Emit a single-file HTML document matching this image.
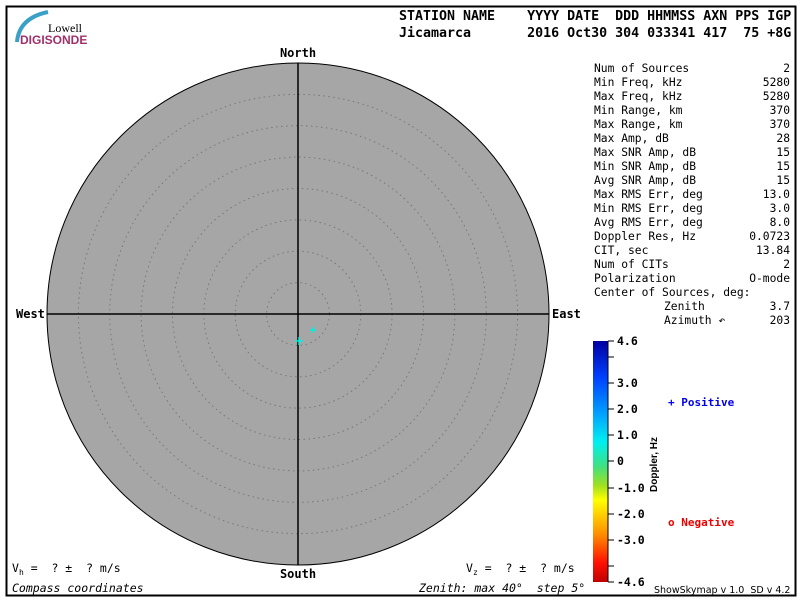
<!DOCTYPE html>
<html><head><meta charset="utf-8"><style>
html,body{margin:0;padding:0;background:#fff;width:800px;height:600px;overflow:hidden}
text{font-family:"DejaVu Sans Mono","Liberation Mono",monospace;white-space:pre}
</style></head><body>
<svg width="800" height="600" xmlns="http://www.w3.org/2000/svg">
<defs>
<linearGradient id="cb" x1="0" y1="0" x2="0" y2="1">
<stop offset="0" stop-color="#0000a0"/>
<stop offset="0.15" stop-color="#0040ff"/>
<stop offset="0.3" stop-color="#00a0ff"/>
<stop offset="0.42" stop-color="#00f0f0"/>
<stop offset="0.52" stop-color="#40e080"/>
<stop offset="0.6" stop-color="#a0e020"/>
<stop offset="0.66" stop-color="#ffff00"/>
<stop offset="0.8" stop-color="#ff9000"/>
<stop offset="0.92" stop-color="#ff1000"/>
<stop offset="1" stop-color="#c00000"/>
</linearGradient>
</defs>
<rect x="6.5" y="6.5" width="789" height="589" fill="none" stroke="#000" stroke-width="2"/>
<path d="M17 42 Q19 18 48 12" stroke="#3aa0c8" stroke-width="4" fill="none"/>
<text x="48" y="32" style="font-family:'Liberation Serif',serif" font-size="12">Lowell</text>
<text x="20" y="44" style="font-family:'Liberation Sans',sans-serif" font-size="12" font-weight="bold" fill="#a0306a">DIGISONDE</text>
<g font-size="13.3" font-weight="bold">
<text x="399" y="20">STATION NAME    YYYY DATE  DDD HHMMSS AXN PPS IGP</text>
<text x="399" y="37">Jicamarca       2016 Oct30 304 033341 417  75 +8G</text>
</g>
<circle cx="298" cy="314" r="251" fill="#a6a6a6" stroke="#000"/>
<g fill="none" stroke="#777" stroke-dasharray="1.5,3.5">
<circle cx="298" cy="314" r="31.4"/><circle cx="298" cy="314" r="62.8"/>
<circle cx="298" cy="314" r="94.1"/><circle cx="298" cy="314" r="125.5"/>
<circle cx="298" cy="314" r="156.9"/><circle cx="298" cy="314" r="188.3"/>
<circle cx="298" cy="314" r="219.6"/>
</g>
<line x1="298" y1="63" x2="298" y2="565" stroke="#000" stroke-width="1.5"/>
<line x1="47" y1="314" x2="549" y2="314" stroke="#000" stroke-width="1.5"/>
<g stroke="#00f0e0" stroke-width="1.5">
<line x1="310" y1="330" x2="316" y2="330"/><line x1="313" y1="327" x2="313" y2="333"/>
<line x1="295" y1="341" x2="303" y2="341"/><line x1="299" y1="337" x2="299" y2="345"/>
</g>
<g font-size="12" font-weight="bold">
<text x="298" y="57" text-anchor="middle">North</text>
<text x="298" y="578" text-anchor="middle">South</text>
<text x="16" y="318">West</text>
<text x="552" y="318">East</text>
</g>
<g font-size="11.3">
<text x="594" y="72">Num of Sources</text><text x="790" y="72" text-anchor="end">2</text>
<text x="594" y="86">Min Freq, kHz</text><text x="790" y="86" text-anchor="end">5280</text>
<text x="594" y="100">Max Freq, kHz</text><text x="790" y="100" text-anchor="end">5280</text>
<text x="594" y="114">Min Range, km</text><text x="790" y="114" text-anchor="end">370</text>
<text x="594" y="128">Max Range, km</text><text x="790" y="128" text-anchor="end">370</text>
<text x="594" y="142">Max Amp, dB</text><text x="790" y="142" text-anchor="end">28</text>
<text x="594" y="156">Max SNR Amp, dB</text><text x="790" y="156" text-anchor="end">15</text>
<text x="594" y="170">Min SNR Amp, dB</text><text x="790" y="170" text-anchor="end">15</text>
<text x="594" y="184">Avg SNR Amp, dB</text><text x="790" y="184" text-anchor="end">15</text>
<text x="594" y="198">Max RMS Err, deg</text><text x="790" y="198" text-anchor="end">13.0</text>
<text x="594" y="212">Min RMS Err, deg</text><text x="790" y="212" text-anchor="end">3.0</text>
<text x="594" y="226">Avg RMS Err, deg</text><text x="790" y="226" text-anchor="end">8.0</text>
<text x="594" y="240">Doppler Res, Hz</text><text x="790" y="240" text-anchor="end">0.0723</text>
<text x="594" y="254">CIT, sec</text><text x="790" y="254" text-anchor="end">13.84</text>
<text x="594" y="268">Num of CITs</text><text x="790" y="268" text-anchor="end">2</text>
<text x="594" y="282">Polarization</text><text x="790" y="282" text-anchor="end">O-mode</text>
<text x="594" y="296">Center of Sources, deg:</text>
<text x="664" y="310">Zenith</text><text x="790" y="310" text-anchor="end">3.7</text>
<text x="664" y="324">Azimuth ↶</text><text x="790" y="324" text-anchor="end">203</text>
</g>
<rect x="593" y="341" width="15" height="241" fill="url(#cb)"/>
<line x1="608" y1="341" x2="608" y2="582" stroke="#000"/>
<g stroke="#000">
<line x1="608" y1="341" x2="614" y2="341"/><line x1="608" y1="357" x2="614" y2="357"/>
<line x1="608" y1="383" x2="614" y2="383"/><line x1="608" y1="409" x2="614" y2="409"/>
<line x1="608" y1="435" x2="614" y2="435"/><line x1="608" y1="461" x2="614" y2="461"/>
<line x1="608" y1="488" x2="614" y2="488"/><line x1="608" y1="514" x2="614" y2="514"/>
<line x1="608" y1="540" x2="614" y2="540"/><line x1="608" y1="566" x2="614" y2="566"/>
<line x1="608" y1="582" x2="614" y2="582"/>
</g>
<g font-size="11.5" font-weight="bold">
<text x="617" y="345">4.6</text><text x="617" y="387">3.0</text><text x="617" y="413">2.0</text>
<text x="617" y="439">1.0</text><text x="617" y="465">0</text><text x="617" y="492">-1.0</text>
<text x="617" y="518">-2.0</text><text x="617" y="544">-3.0</text><text x="617" y="586">-4.6</text>
</g>
<text transform="translate(657,492) rotate(-90)" font-size="10" font-weight="bold" style="font-family:'Liberation Sans',sans-serif">Doppler, Hz</text>
<g font-size="11" font-weight="bold" style="font-family:'Liberation Sans',sans-serif">
<text x="668" y="406" fill="#0000ee">+ Positive</text>
<text x="668" y="526" fill="#ee0000">o Negative</text>
</g>
<g font-size="11.5">
<text x="12" y="572">V<tspan font-size="8" dy="3">h</tspan><tspan dy="-3"> =  ? ±  ? m/s</tspan></text>
<text x="466" y="572">V<tspan font-size="8" dy="3">z</tspan><tspan dy="-3"> =  ? ±  ? m/s</tspan></text>
<text x="12" y="592" font-style="italic">Compass coordinates</text>
<text x="419" y="592" font-style="italic">Zenith: max 40°  step 5°</text>
</g>
<text x="654" y="593" font-size="9.5" style="font-family:'DejaVu Sans',sans-serif">ShowSkymap v 1.0  SD v 4.2</text>
</svg>
</body></html>
